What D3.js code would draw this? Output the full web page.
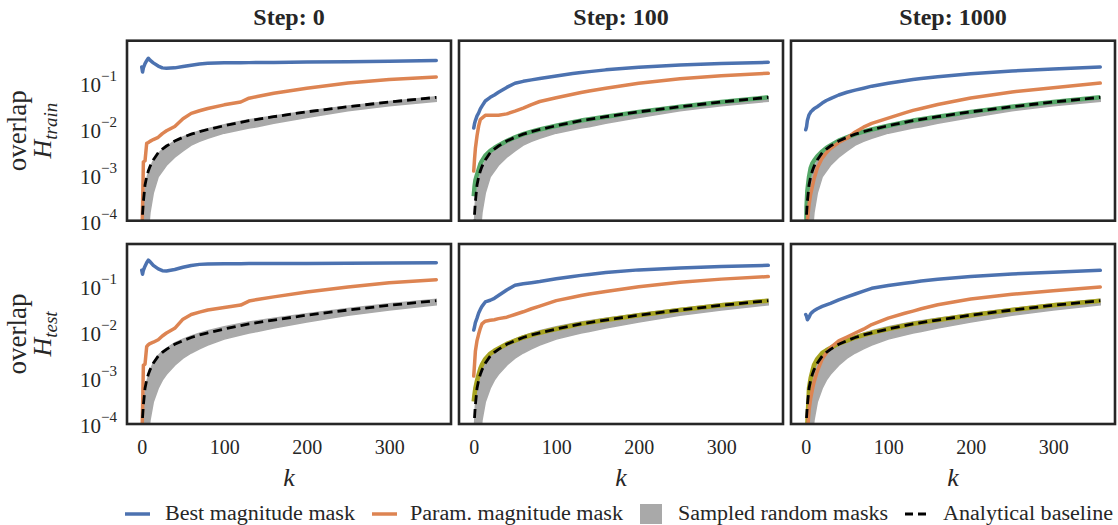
<!DOCTYPE html>
<html><head><meta charset="utf-8">
<script src="https://cdn.jsdelivr.net/npm/d3@7"></script>
<style>
html,body{margin:0;padding:0;background:#fff;}
svg{display:block;font-family:"Liberation Serif","Times New Roman",serif;}
</style></head>
<body><svg id="chart" width="1118" height="525"></svg>
<script>
// ---------- data ----------
const K = [0,1,2,4,6,8,10,14,20,25,30,40,50,60,70,80,100,120,130,140,160,200,250,300,357];
const steps = ["Step: 0","Step: 100","Step: 1000"];
const rowLabels = ["train","test"];
const yTicks = [1e-4,1e-3,1e-2,1e-1];
const yTickExp = ["−4","−3","−2","−1"];
const xTicks = [0,100,200,300];
const legendNames = ["Best magnitude mask","Param. magnitude mask","Sampled random masks","Analytical baseline"];

const baseline = [1e-6,1.4e-4,2.6e-4,6e-4,9e-4,1.2e-3,1.5e-3,2.1e-3,3.0e-3,3.6e-3,4.2e-3,5.4e-3,6.5e-3,7.6e-3,8.6e-3,9.6e-3,1.16e-2,1.38e-2,1.5e-2,1.6e-2,1.82e-2,2.32e-2,3.0e-2,3.8e-2,4.8e-2];

const bandLoTrain = [1e-6,1e-6,1e-6,1e-6,1e-5,6e-5,1.5e-4,4e-4,9e-4,1.2e-3,1.6e-3,2.4e-3,3.3e-3,4.4e-3,5.3e-3,6.2e-3,8.0e-3,9.5e-3,1.03e-2,1.1e-2,1.32e-2,1.75e-2,2.45e-2,3.15e-2,3.95e-2];
const bandHiTrain = [1e-6,1e-4,2.5e-4,5e-4,8e-4,1.1e-3,1.4e-3,2.0e-3,2.9e-3,3.5e-3,4.1e-3,5.4e-3,6.6e-3,7.8e-3,8.9e-3,1.0e-2,1.22e-2,1.45e-2,1.56e-2,1.67e-2,1.88e-2,2.4e-2,3.1e-2,3.9e-2,4.9e-2];
const bandLoTest = [1e-6,1e-6,1e-6,1e-6,1e-5,5e-5,1.2e-4,3e-4,6e-4,9e-4,1.2e-3,1.9e-3,2.7e-3,3.5e-3,4.3e-3,5.2e-3,7.0e-3,8.6e-3,9.5e-3,1.03e-2,1.22e-2,1.65e-2,2.3e-2,3.0e-2,3.9e-2];
const bandHiTest = [1e-6,1e-4,2.5e-4,5e-4,8e-4,1.1e-3,1.45e-3,2.1e-3,3.1e-3,3.8e-3,4.4e-3,5.8e-3,7e-3,8.2e-3,9.4e-3,1.06e-2,1.3e-2,1.53e-2,1.65e-2,1.76e-2,1.98e-2,2.5e-2,3.25e-2,4.1e-2,5.1e-2];

// best magnitude mask (blue)
const best_train_0 = [0.22,0.17,0.21,0.26,0.30,0.34,0.31,0.27,0.23,0.21,0.205,0.21,0.225,0.24,0.255,0.265,0.27,0.272,0.273,0.274,0.276,0.28,0.285,0.292,0.303];
const best_train_100 = [0.0103,0.013,0.015,0.019,0.022,0.027,0.031,0.040,0.048,0.054,0.062,0.079,0.097,0.107,0.115,0.123,0.140,0.158,0.166,0.174,0.19,0.216,0.243,0.262,0.277];
const best_train_1000 = [0.0095,0.011,0.015,0.02,0.023,0.025,0.027,0.030,0.036,0.041,0.045,0.054,0.062,0.069,0.076,0.084,0.097,0.110,0.117,0.123,0.135,0.157,0.18,0.198,0.219];
const best_test_0 = [0.22,0.18,0.22,0.27,0.32,0.365,0.34,0.28,0.235,0.215,0.212,0.228,0.255,0.28,0.295,0.30,0.305,0.306,0.307,0.307,0.308,0.31,0.313,0.317,0.322];
const best_test_100 = [0.011,0.013,0.016,0.020,0.026,0.031,0.036,0.045,0.049,0.054,0.062,0.082,0.104,0.112,0.118,0.125,0.143,0.161,0.17,0.178,0.196,0.224,0.247,0.265,0.281];
const best_test_1000 = [0.024,0.022,0.0185,0.021,0.025,0.027,0.029,0.032,0.036,0.039,0.042,0.05,0.058,0.067,0.077,0.089,0.102,0.115,0.121,0.128,0.14,0.16,0.183,0.2,0.219];

// param. magnitude mask (orange)
const param_train_0 = [3e-5,2e-4,1.9e-3,2e-3,4.8e-3,5.0e-3,5.3e-3,5.8e-3,6.5e-3,7.8e-3,9.0e-3,1.12e-2,1.65e-2,2.15e-2,2.45e-2,2.75e-2,3.3e-2,3.8e-2,4.6e-2,5.0e-2,5.9e-2,7.6e-2,9.8e-2,0.117,0.133];
const param_train_100 = [1.2e-3,2.2e-3,3.7e-3,7e-3,1.15e-2,1.58e-2,1.7e-2,1.95e-2,1.95e-2,1.95e-2,1.96e-2,2.1e-2,2.4e-2,2.8e-2,3.35e-2,3.9e-2,4.7e-2,5.6e-2,6.1e-2,6.6e-2,7.6e-2,9.7e-2,0.122,0.142,0.160];
const param_train_1000 = [1e-6,3e-5,1e-4,2.2e-4,3.8e-4,5.5e-4,8e-4,1.4e-3,2.3e-3,3.0e-3,3.7e-3,5.0e-3,6.2e-3,8.5e-3,1.08e-2,1.3e-2,1.7e-2,2.2e-2,2.5e-2,2.75e-2,3.35e-2,4.65e-2,6.3e-2,7.8e-2,9.8e-2];
const param_test_0 = [3e-5,2e-4,1.9e-3,2.0e-3,4.8e-3,5.3e-3,5.6e-3,6.0e-3,6.8e-3,8.2e-3,9.5e-3,1.2e-2,1.9e-2,2.4e-2,2.7e-2,3.0e-2,3.4e-2,3.85e-2,4.7e-2,5.1e-2,5.8e-2,7.4e-2,9.5e-2,0.117,0.137];
const param_test_100 = [1.1e-3,2e-3,3.8e-3,6.5e-3,9e-3,1.2e-2,1.5e-2,1.72e-2,1.8e-2,1.85e-2,1.95e-2,2.1e-2,2.4e-2,2.75e-2,3.2e-2,3.65e-2,4.8e-2,5.7e-2,6.2e-2,6.7e-2,7.6e-2,9.6e-2,0.12,0.141,0.160];
const param_test_1000 = [1e-6,1e-5,6e-5,2e-4,3.6e-4,5.5e-4,8e-4,1.4e-3,2.6e-3,3.5e-3,4.6e-3,6.4e-3,7.8e-3,9.5e-3,1.15e-2,1.45e-2,2.0e-2,2.55e-2,2.85e-2,3.2e-2,3.9e-2,5.2e-2,6.6e-2,7.9e-2,9.5e-2];

// extra curve hidden under the baseline (green on train, olive on test)
const extra_train_100 = [3.4e-4,5.5e-4,7.5e-4,1.0e-3,1.3e-3,1.7e-3,2.0e-3,2.6e-3,3.3e-3,3.8e-3,4.3e-3,5.4e-3,6.5e-3,7.6e-3,8.6e-3,9.6e-3,1.16e-2,1.38e-2,1.5e-2,1.6e-2,1.82e-2,2.32e-2,3.0e-2,3.8e-2,4.8e-2];
const extra_train_1000 = [1e-6,2e-4,4.5e-4,9e-4,1.4e-3,1.75e-3,2.0e-3,2.5e-3,3.2e-3,3.8e-3,4.3e-3,5.5e-3,6.5e-3,7.6e-3,8.6e-3,9.6e-3,1.16e-2,1.38e-2,1.5e-2,1.6e-2,1.82e-2,2.32e-2,3.0e-2,3.8e-2,4.8e-2];
const extra_test_100 = [3.1e-4,4.5e-4,6e-4,8.8e-4,1.2e-3,1.6e-3,1.95e-3,2.6e-3,3.4e-3,3.9e-3,4.4e-3,5.5e-3,6.5e-3,7.6e-3,8.6e-3,9.6e-3,1.16e-2,1.38e-2,1.5e-2,1.6e-2,1.82e-2,2.32e-2,3.0e-2,3.8e-2,4.8e-2];
const extra_test_1000 = [1e-6,1e-5,1e-4,6e-4,1.0e-3,1.4e-3,1.9e-3,2.6e-3,3.5e-3,4.0e-3,4.5e-3,5.6e-3,6.5e-3,7.6e-3,8.6e-3,9.6e-3,1.16e-2,1.38e-2,1.5e-2,1.6e-2,1.82e-2,2.32e-2,3.0e-2,3.8e-2,4.8e-2];

const bestSets = [[best_train_0,best_train_100,best_train_1000],[best_test_0,best_test_100,best_test_1000]];
const paramSets = [[param_train_0,param_train_100,param_train_1000],[param_test_0,param_test_100,param_test_1000]];
const extraSets = [[null,extra_train_100,extra_train_1000],[null,extra_test_100,extra_test_1000]];
const bandSets = [[bandLoTrain,bandHiTrain],[bandLoTest,bandHiTest]];

// ---------- style ----------
const C = {blue:"#4c72b0", orange:"#dd8452", gray:"#a9a9a9", green:"#55a868", olive:"#a6a320", frame:"#262626"};
const extraColors = [C.green, C.olive];
const FONT = "'Liberation Serif','Times New Roman',serif";

const svg = d3.select("#chart");
const panelW = 324, panelH = 180;
const lefts = [127,459,791], tops = [40.7,244];

const x = d3.scaleLinear().domain([-17.85, 374.85]).range([0, panelW]);
const y = d3.scaleLog().domain([1e-4, 0.818]).range([panelH, 0]);

const line = d3.line().x((d,i)=>x(K[i])).y(d=>y(d));
const area = d3.area().x((d,i)=>x(K[i])).y0(d=>y(d[0])).y1(d=>y(d[1]));

const defs = svg.append("defs");

for (let r=0;r<2;r++){
  for (let c=0;c<3;c++){
    const g = svg.append("g").attr("transform",`translate(${lefts[c]},${tops[r]})`);
    const id = `clip${r}${c}`;
    defs.append("clipPath").attr("id",id).append("rect").attr("width",panelW).attr("height",panelH);
    const pg = g.append("g").attr("clip-path",`url(#${id})`);
    const [lo,hi] = bandSets[r];
    pg.append("path").datum(lo.map((v,i)=>[v,hi[i]])).attr("d",area).attr("fill",C.gray).attr("stroke",C.gray).attr("stroke-width",1.5);
    const ex = extraSets[r][c];
    if (ex) pg.append("path").datum(ex).attr("d",line).attr("fill","none").attr("stroke",extraColors[r]).attr("stroke-width",4.5).attr("stroke-linejoin","round");
    pg.append("path").datum(bestSets[r][c]).attr("d",line).attr("fill","none").attr("stroke",C.blue).attr("stroke-width",3.5).attr("stroke-linejoin","round").attr("stroke-linecap","round");
    pg.append("path").datum(paramSets[r][c]).attr("d",line).attr("fill","none").attr("stroke",C.orange).attr("stroke-width",3.5).attr("stroke-linejoin","round").attr("stroke-linecap","round");
    pg.append("path").datum(baseline).attr("d",line).attr("fill","none").attr("stroke","#000").attr("stroke-width",2.8).attr("stroke-dasharray","9,5");

    g.append("rect").attr("width",panelW).attr("height",panelH).attr("fill","none").attr("stroke",C.frame).attr("stroke-width",2.6);

    if (c===0){
      const ax = g.append("g").call(d3.axisLeft(y).tickValues(yTicks).tickSize(0).tickPadding(10).tickFormat(()=>""));
      ax.attr("font-family",FONT);
      ax.select(".domain").remove();
      ax.selectAll(".tick text").each(function(d,i){
        const t = d3.select(this).attr("font-size",21).attr("fill","#262626").attr("dy","0.4em");
        t.append("tspan").text("10");
        t.append("tspan").text(yTickExp[i]).attr("font-size",15).attr("dy","-0.7em");
      });
      // y label
      const yl = svg.append("g").attr("transform",`translate(0,${tops[r]+panelH/2}) rotate(-90)`);
      yl.append("text").attr("x",0).attr("y",26).attr("text-anchor","middle").attr("font-size",27).attr("fill","#262626").text("overlap");
      const t2 = yl.append("text").attr("x",0).attr("y",51).attr("text-anchor","middle").attr("font-size",26).attr("fill","#262626").attr("font-style","italic");
      t2.append("tspan").text("H");
      t2.append("tspan").text(rowLabels[r]).attr("font-size",19).attr("dy","0.3em");
    }
    if (r===0){
      g.append("text").attr("x",panelW/2).attr("y",-16).attr("text-anchor","middle").attr("font-size",24).attr("font-weight","bold").attr("fill","#262626").text(steps[c]);
    }
    if (r===1){
      const ax = g.append("g").attr("transform",`translate(0,${panelH})`).call(d3.axisBottom(x).tickValues(xTicks).tickSize(0).tickPadding(16));
      ax.attr("font-family",FONT);
      ax.select(".domain").remove();
      ax.selectAll(".tick text").attr("font-size",20).attr("fill","#262626");
      g.append("text").attr("x",panelW/2).attr("y",panelH+62).attr("text-anchor","middle").attr("font-size",26).attr("font-style","italic").attr("fill","#262626").text("k");
    }
  }
}

// ---------- legend ----------
const lg = svg.append("g").attr("transform","translate(0,514)");
const items = [
  {x:125, type:"line", color:C.blue, tx:165, w:190},
  {x:372, type:"line", color:C.orange, tx:410, w:213},
  {x:640, type:"patch", color:C.gray, tx:678, w:210},
  {x:905, type:"dash", color:"#000", tx:943, w:170}
];
items.forEach((it,i)=>{
  if (it.type==="line") lg.append("line").attr("x1",it.x).attr("x2",it.x+25).attr("stroke",it.color).attr("stroke-width",3.5);
  else if (it.type==="patch") lg.append("rect").attr("x",it.x).attr("y",-10).attr("width",22).attr("height",20).attr("fill",it.color);
  else lg.append("line").attr("x1",it.x).attr("x2",it.x+25).attr("stroke",it.color).attr("stroke-width",2.8).attr("stroke-dasharray","8,5");
  lg.append("text").attr("x",it.tx).attr("y",6).attr("font-size",20).attr("fill","#262626")
    .attr("textLength",it.w).attr("lengthAdjust","spacingAndGlyphs").text(legendNames[i]);
});
</script></body></html>
